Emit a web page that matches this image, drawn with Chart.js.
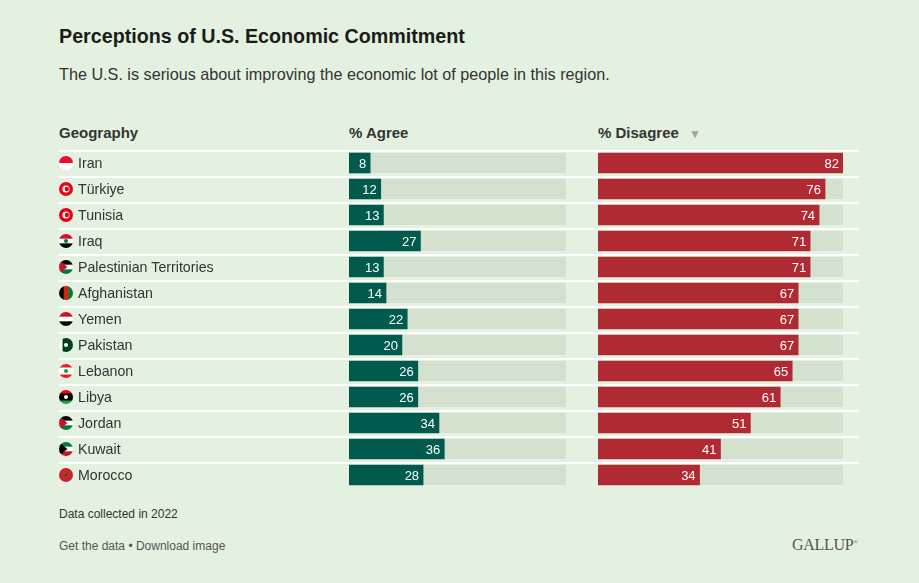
<!DOCTYPE html>
<html>
<head>
<meta charset="utf-8">
<script src="https://cdn.jsdelivr.net/npm/chart.js"></script>
<style>
  html, body { margin: 0; padding: 0; }
  body {
    width: 919px; height: 583px; background: #e4f1e0; overflow: hidden;
    font-family: "Liberation Sans", Arial, sans-serif; color: #333; position: relative;
  }
  .abs { position: absolute; white-space: nowrap; }
  #title { left: 59px; top: 25px; font-size: 19.7px; font-weight: bold; color: #1b1b1b; }
  #subtitle { left: 59px; top: 65px; font-size: 16.2px; color: #333; }
  .head { top: 124px; font-size: 15px; font-weight: bold; color: #333; }
  .line { position: absolute; left: 59px; width: 800px; height: 2px; background: #fff; }
  #note { left: 59px; top: 507px; font-size: 12px; color: #333; }
  #links { left: 59px; top: 539px; font-size: 12px; color: #555; }
  #brand { left: 792px; top: 536px; font-family: "Liberation Serif", serif; font-size: 16px; color: #555; letter-spacing: -0.3px; }
  #brand sup { font-size: 6px; }
  canvas { position: absolute; }
</style>
</head>
<body>
<div id="title" class="abs">Perceptions of U.S. Economic Commitment</div>
<div id="subtitle" class="abs">The U.S. is serious about improving the economic lot of people in this region.</div>
<div class="abs head" style="left:59px">Geography</div>
<div class="abs head" style="left:349px">% Agree</div>
<div class="abs head" style="left:598px">% Disagree <span style="color:#9aa39a;font-size:12px;margin-left:6px">&#9660;</span></div>
<div id="lines"></div>
<div style="position:absolute;left:40px;top:150px;width:526px;height:338px"><canvas id="agreeChart"></canvas></div>
<div style="position:absolute;left:598px;top:150px;width:245px;height:338px"><canvas id="disagreeChart"></canvas></div>
<div id="note" class="abs">Data collected in 2022</div>
<div id="links" class="abs">Get the data &bull; Download image</div>
<div id="brand" class="abs">GALLUP<sup>&reg;</sup></div>
<script>
  const countries = ['Iran', 'Türkiye', 'Tunisia', 'Iraq', 'Palestinian Territories', 'Afghanistan',
    'Yemen', 'Pakistan', 'Lebanon', 'Libya', 'Jordan', 'Kuwait', 'Morocco']
  const agree = [8, 12, 13, 27, 13, 14, 22, 20, 26, 26, 34, 36, 28]
  const disagree = [82, 76, 74, 71, 71, 67, 67, 67, 65, 61, 51, 41, 34]
  const scaleMax = 82

  // tiny round flags: horizontal stripes, optional vertical stripes, hoist shape, centre dot
  const flags = {
    'Iran': { h: ['#e8112d', '#ffffff'] },
    'Türkiye': { h: ['#e30a17'], dot: '#ffffff', dot2: '#e30a17' },
    'Tunisia': { h: ['#e70013'], dot: '#ffffff', dot2: '#e70013' },
    'Iraq': { h: ['#ce1126', '#ffffff', '#000000'], dot: '#007a3d', small: true },
    'Palestinian Territories': { h: ['#000000', '#ffffff', '#007a3d'], tri: '#ce1126' },
    'Afghanistan': { v: ['#000000', '#d32011', '#007a36'] },
    'Yemen': { h: ['#ce1126', '#ffffff', '#000000'] },
    'Pakistan': { v: ['#ffffff', '#01411c', '#01411c', '#01411c'], dot: '#ffffff', small: true },
    'Lebanon': { h: ['#ed1c24', '#ffffff', '#ffffff', '#ed1c24'], dot: '#00a651', small: true },
    'Libya': { h: ['#e70013', '#000000', '#000000', '#239e46'], dot: '#ffffff', small: true },
    'Jordan': { h: ['#000000', '#ffffff', '#007a3d'], tri: '#ce1126' },
    'Kuwait': { h: ['#007a3d', '#ffffff', '#ce1126'], tri: '#000000' },
    'Morocco': { h: ['#c1272d'], dot: '#006233', small: true, tiny: true }
  }

  function drawFlag(ctx, cx, cy, r, f) {
    ctx.save()
    ctx.beginPath()
    ctx.arc(cx, cy, r, 0, Math.PI * 2)
    ctx.clip()
    if (f.h) {
      const s = (2 * r) / f.h.length
      f.h.forEach((c, i) => { ctx.fillStyle = c; ctx.fillRect(cx - r, cy - r + i * s, 2 * r, s + 0.5) })
    }
    if (f.v) {
      const s = (2 * r) / f.v.length
      f.v.forEach((c, i) => { ctx.fillStyle = c; ctx.fillRect(cx - r + i * s, cy - r, s + 0.5, 2 * r) })
    }
    if (f.tri) {
      ctx.fillStyle = f.tri
      ctx.beginPath()
      ctx.moveTo(cx - r, cy - r)
      ctx.lineTo(cx + 0.2 * r, cy)
      ctx.lineTo(cx - r, cy + r)
      ctx.closePath()
      ctx.fill()
    }
    if (f.dot) {
      ctx.fillStyle = f.dot
      ctx.beginPath()
      ctx.arc(cx, cy, f.tiny ? 1.2 : (f.small ? 2 : 3.6), 0, Math.PI * 2)
      ctx.fill()
      if (f.dot2) {
        ctx.fillStyle = f.dot2
        ctx.beginPath()
        ctx.arc(cx + 0.8, cy, 2.2, 0, Math.PI * 2)
        ctx.fill()
      }
    }
    ctx.restore()
  }

  // draws the light grey track behind each bar and the white value labels
  const trackAndLabels = {
    id: 'trackAndLabels',
    beforeDatasetsDraw(chart) {
      const { ctx, chartArea, scales } = chart
      ctx.save()
      ctx.fillStyle = '#d5e1cf'
      chart.data.labels.forEach((_, i) => {
        const y = scales.y.getPixelForValue(i)
        ctx.fillRect(chartArea.left, y - 10, chartArea.right - chartArea.left, 20)
      })
      ctx.restore()
    },
    afterDatasetsDraw(chart) {
      const { ctx } = chart
      const meta = chart.getDatasetMeta(0)
      ctx.save()
      ctx.fillStyle = '#ffffff'
      ctx.font = '13px "Liberation Sans", Arial, sans-serif'
      ctx.textAlign = 'right'
      ctx.textBaseline = 'middle'
      meta.data.forEach((bar, i) => {
        ctx.fillText(String(chart.data.datasets[0].data[i]), bar.x - 4, bar.y + 1)
      })
      ctx.restore()
    }
  }

  // country names with their flags, to the left of the agree bars
  const geography = {
    id: 'geography',
    afterDraw(chart) {
      if (chart.canvas.id !== 'agreeChart') return
      const { ctx, scales } = chart
      ctx.save()
      ctx.font = '14.2px "Liberation Sans", Arial, sans-serif'
      ctx.fillStyle = '#333'
      ctx.textBaseline = 'middle'
      countries.forEach((name, i) => {
        const y = scales.y.getPixelForValue(i)
        drawFlag(ctx, 26, y, 7, flags[name])
        ctx.fillText(name, 38, y + 1.5)
      })
      ctx.restore()
    }
  }

  function makeChart(id, values, color, leftPad) {
    return new Chart(document.getElementById(id), {
      type: 'bar',
      data: {
        labels: countries,
        datasets: [{ data: values, backgroundColor: color, barThickness: 20 }]
      },
      options: {
        indexAxis: 'y',
        responsive: true,
        maintainAspectRatio: false,
        animation: false,
        layout: { padding: { left: leftPad, right: 0, top: 0, bottom: 0 } },
        plugins: { legend: { display: false }, tooltip: { enabled: false } },
        scales: {
          x: { display: false, min: 0, max: scaleMax },
          y: { display: false, offset: true }
        }
      },
      plugins: [trackAndLabels, geography]
    })
  }

  // white row separators
  const lines = document.getElementById('lines')
  countries.forEach((_, i) => {
    const d = document.createElement('div')
    d.className = 'line'
    d.style.top = (150 + i * 26) + 'px'
    lines.appendChild(d)
  })

  makeChart('agreeChart', agree, '#005a4e', 309)
  makeChart('disagreeChart', disagree, '#b02a33', 0)
</script>
</body>
</html>
